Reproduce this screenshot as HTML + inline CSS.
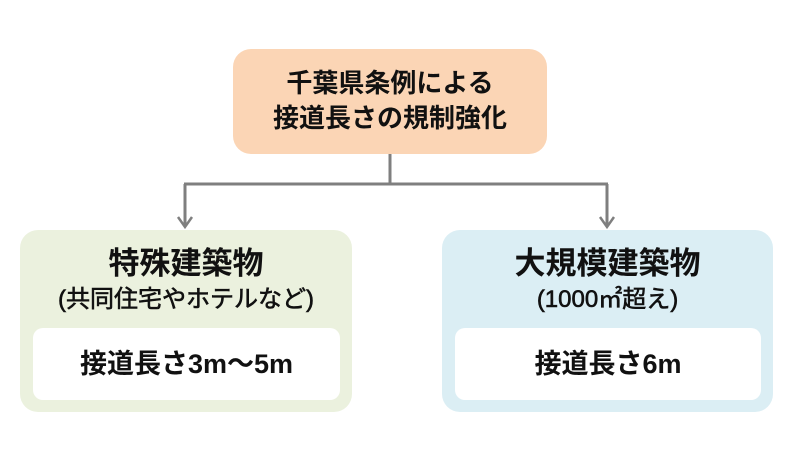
<!DOCTYPE html>
<html><head><meta charset="utf-8"><style>
body{margin:0;width:794px;height:465px;background:#fff;position:relative;overflow:hidden;font-family:"Liberation Sans","Noto Sans CJK JP",sans-serif;font-weight:bold;color:#111}
.b{position:absolute;border-radius:18px;text-align:center}
.w{position:absolute;background:#fff;border-radius:10px;text-align:center;font-size:27px;line-height:72px}
</style></head><body>
<div class="b" style="left:233px;top:49px;width:314px;height:105px;background:#fbd5b5;font-size:26px;line-height:35px;padding-top:17px;box-sizing:border-box">千葉県条例による<br>接道長さの規制強化</div>
<svg width="794" height="465" style="position:absolute;left:0;top:0">
<g stroke="#7f7f7f" stroke-width="3" fill="none">
<path d="M390 154V184M184 184H608M185 184V226M607 184V226"/>
<path d="M178 217L185 227L192 217M600 217L607 227L614 217" stroke-width="2.5"/>
</g></svg>
<div class="b" style="left:20px;top:230px;width:332px;height:182px;background:#ebf1de">
<div style="font-size:31px;margin-top:14px;line-height:40px">特殊建築物</div>
<div style="font-size:24px;line-height:32px;margin-top:0px;font-weight:normal;-webkit-text-stroke:0.6px #111">(共同住宅やホテルなど)</div>
</div>
<div class="w" style="left:33px;top:328px;width:307px;height:72px">接道長さ3m～5m</div>
<div class="b" style="left:442px;top:230px;width:331px;height:182px;background:#dbeef4">
<div style="font-size:31px;margin-top:14px;line-height:40px">大規模建築物</div>
<div style="font-size:24px;line-height:32px;margin-top:0px;font-weight:normal;-webkit-text-stroke:0.6px #111">(1000㎡超え)</div>
</div>
<div class="w" style="left:455px;top:328px;width:306px;height:72px">接道長さ6m</div>
</body></html>
